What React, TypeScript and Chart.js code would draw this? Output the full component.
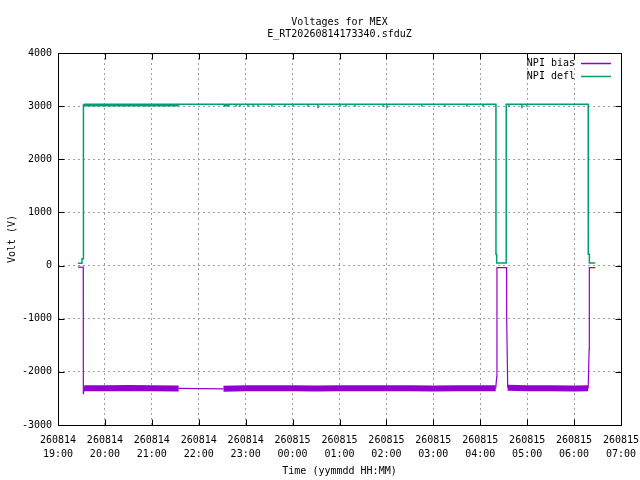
import { useEffect, useRef } from 'react';
import { Chart, registerables, type Plugin } from 'chart.js';

Chart.register(...registerables);

const FONT = "'DejaVu Sans Mono', monospace";

const titleLines = ['Voltages for MEX', 'E_RT20260814173340.sfduZ'];
const xTitle = 'Time (yymmdd HH:MM)';
const yTitle = 'Volt (V)';

// hours after 260814 19:00
const tickHours = [0, 1, 2, 3, 4, 5, 6, 7, 8, 9, 10, 11, 12];
const tickDates = ['260814', '260814', '260814', '260814', '260814', '260815', '260815', '260815', '260815', '260815', '260815', '260815', '260815'];
const tickTimes = ['19:00', '20:00', '21:00', '22:00', '23:00', '00:00', '01:00', '02:00', '03:00', '04:00', '05:00', '06:00', '07:00'];

const biasTimes = [
  0.426, 0.538, 0.54, 0.556, 1.0, 1.5, 2.0, 2.572,
  3.527, 4.0, 4.5, 5.0, 5.5, 6.0, 6.5, 7.0, 7.5, 8.0, 8.5, 9.0, 9.33,
  9.35, 9.356, 9.562, 9.563, 9.585, 10.0, 10.5, 11.0, 11.3, 11.32, 11.325, 11.452,
];
const biasValues = [
  -30, -30, -2420, -2310, -2310, -2305, -2310, -2312,
  -2320, -2310, -2308, -2310, -2312, -2310, -2308, -2310, -2310, -2312, -2310, -2310, -2310,
  -2100, -40, -40, -960, -2300, -2310, -2310, -2312, -2310, -1590, -40, -40,
];

const deflTimes = [
  0.426, 0.511, 0.512, 0.537, 0.539, 0.545, 1.5, 2.572, 2.573, 3.526, 3.527, 3.65, 3.651,
  3.794, 3.794, 3.794, 3.879, 3.879, 3.879, 4.049, 4.049, 4.049, 4.156, 4.156, 4.156,
  4.263, 4.263, 4.263, 4.561, 4.561, 4.561, 4.838, 4.838, 4.838, 5.009, 5.009, 5.009,
  5.328, 5.328, 5.328, 5.541, 5.541, 5.541, 6.01, 6.01, 6.01, 6.138, 6.138, 6.138,
  6.33, 6.33, 6.33, 6.926, 6.926, 6.926, 7.012, 7.012, 7.012, 7.758, 7.758, 7.758,
  8.248, 8.248, 8.248, 8.717, 8.717, 8.717, 9.058, 9.058, 9.058,
  9.334, 9.335, 9.35, 9.351, 9.553, 9.554,
  9.612, 9.612, 9.612, 9.889, 9.889, 9.889, 9.996, 9.996, 9.996,
  11.301, 11.302, 11.325, 11.326, 11.452,
];
const deflValues = [
  45, 45, 130, 130, 3035, 3020, 3020, 3020, 3035, 3035, 3020, 3020, 3035,
  3035, 2990, 3035, 3035, 2990, 3035, 3035, 2990, 3035, 3035, 2990, 3035,
  3035, 2990, 3035, 3035, 2990, 3035, 3035, 2990, 3035, 3035, 2990, 3035,
  3035, 2990, 3035, 3035, 2960, 3035, 3035, 2990, 3035, 3035, 2990, 3035,
  3035, 2990, 3035, 3035, 2990, 3035, 3035, 2965, 3035, 3035, 2990, 3035,
  3035, 2990, 3035, 3035, 2990, 3035, 3035, 2990, 3035,
  3035, 212, 212, 49, 49, 3035,
  3035, 2990, 3035, 3035, 2960, 3035, 3035, 2990, 3035,
  3035, 212, 212, 49, 49,
];

const framePlugin: Plugin<'line'> = {
  id: 'gnuFrame',
  afterDatasetsDraw(chart) {
    const { ctx, chartArea } = chart;
    const { left, right, top, bottom } = chartArea;
    const xs = chart.scales.x;
    const ys = chart.scales.y;
    const L = Math.round(left) + 0.5;
    const R = Math.round(right) + 0.5;
    const T = Math.round(top) + 0.5;
    const B = Math.round(bottom) + 0.5;
    ctx.save();
    ctx.strokeStyle = '#000';
    ctx.lineWidth = 1;
    ctx.beginPath();
    xs.ticks.forEach((t) => {
      const px = Math.round(xs.getPixelForValue(t.value)) + 0.5;
      ctx.moveTo(px, B);
      ctx.lineTo(px, B - 6);
      ctx.moveTo(px, T);
      ctx.lineTo(px, T + 6);
    });
    ys.ticks.forEach((t) => {
      const py = Math.round(ys.getPixelForValue(t.value)) + 0.5;
      ctx.moveTo(L, py);
      ctx.lineTo(L + 6, py);
      ctx.moveTo(R, py);
      ctx.lineTo(R - 6, py);
    });
    ctx.stroke();
    ctx.strokeRect(L, T, R - L, B - T);

    // legend
    ctx.font = `10px ${FONT}`;
    ctx.textAlign = 'right';
    ctx.textBaseline = 'middle';
    chart.data.datasets.forEach((ds, i) => {
      const y = 63 + i * 13;
      ctx.fillStyle = '#000';
      ctx.fillText(String(ds.label), 575, y);
      ctx.strokeStyle = ds.borderColor as string;
      ctx.lineWidth = 1.5;
      ctx.beginPath();
      ctx.moveTo(581, y + 0.5);
      ctx.lineTo(611, y + 0.5);
      ctx.stroke();
    });

    // title centered over plot area
    ctx.fillStyle = '#000';
    ctx.textAlign = 'center';
    const cx = (left + right) / 2;
    titleLines.forEach((line, i) => ctx.fillText(line, cx, 22 + i * 12.5));
    ctx.restore();
  },
};

export default function App() {
  const canvasRef = useRef<HTMLCanvasElement>(null);
  const chartRef = useRef<Chart<'line'> | null>(null);

  useEffect(() => {
    document.body.style.margin = '0';
    if (!canvasRef.current) return;
    chartRef.current?.destroy();

    chartRef.current = new Chart(canvasRef.current, {
      type: 'line',
      data: {
        datasets: [
          {
            label: 'NPI bias',
            data: biasTimes.map((t, i) => ({ x: t, y: biasValues[i] })),
            borderColor: '#9400d3',
            borderWidth: 1.2,
            pointRadius: 0,
            segment: {
              borderWidth: (c) => {
                const a = c.p0.parsed.y;
                const b = c.p1.parsed.y;
                const band = (v: number) => v < -2200 && v > -2380;
                return band(a) && band(b) && c.p1.parsed.x - c.p0.parsed.x < 0.6 ? 6 : undefined;
              },
            },
          },
          {
            label: 'NPI defl',
            data: deflTimes.map((t, i) => ({ x: t, y: deflValues[i] })),
            borderColor: '#009e73',
            borderWidth: 1.5,
            pointRadius: 0,
            segment: {
              borderWidth: (c) =>
                c.p0.parsed.y >= 3000 && c.p0.parsed.y <= 3025 && c.p1.parsed.y >= 3000 && c.p1.parsed.y <= 3025
                  ? 3
                  : undefined,
            },
          },
        ],
      },
      options: {
        responsive: false,
        animation: false,
        layout: { padding: { top: 53, right: 19, left: 0, bottom: 0 } },
        plugins: {
          legend: { display: false },
          title: { display: false },
          tooltip: { enabled: false },
        },
        scales: {
          x: {
            type: 'linear',
            min: 0,
            max: 12,
            afterFit: (s) => {
              s.height = 55;
              s.paddingLeft = 0;
              s.paddingRight = 0;
            },
            ticks: {
              stepSize: 1,
              autoSkip: false,
              maxRotation: 0,
              padding: 8,
              color: '#000',
              font: { family: FONT, size: 10, lineHeight: 1.4 },
              callback: (v) => {
                const i = tickHours.indexOf(Number(v));
                return i < 0 ? '' : [tickDates[i], tickTimes[i]];
              },
            },
            grid: { color: '#a0a0a0', drawTicks: false },
            border: { display: false, dash: [2, 3] },
            title: {
              display: true,
              text: xTitle,
              color: '#000',
              font: { family: FONT, size: 10 },
              padding: { top: 0, bottom: 3 },
            },
          },
          y: {
            min: -3000,
            max: 4000,
            afterFit: (s) => {
              s.width = 58;
              s.paddingTop = 0;
              s.paddingBottom = 0;
            },
            ticks: {
              stepSize: 1000,
              padding: 6,
              color: '#000',
              font: { family: FONT, size: 10 },
              callback: (v) => String(v),
            },
            grid: { color: '#a0a0a0', drawTicks: false },
            border: { display: false, dash: [2, 3] },
            title: {
              display: true,
              text: yTitle,
              color: '#000',
              font: { family: FONT, size: 10 },
              padding: { top: 6, bottom: 0 },
            },
          },
        },
      },
      plugins: [framePlugin],
    });

    return () => {
      chartRef.current?.destroy();
      chartRef.current = null;
    };
  }, []);

  return (
    <div style={{ width: 640, height: 480, background: '#fff' }}>
      <canvas ref={canvasRef} width={640} height={480} />
    </div>
  );
}
